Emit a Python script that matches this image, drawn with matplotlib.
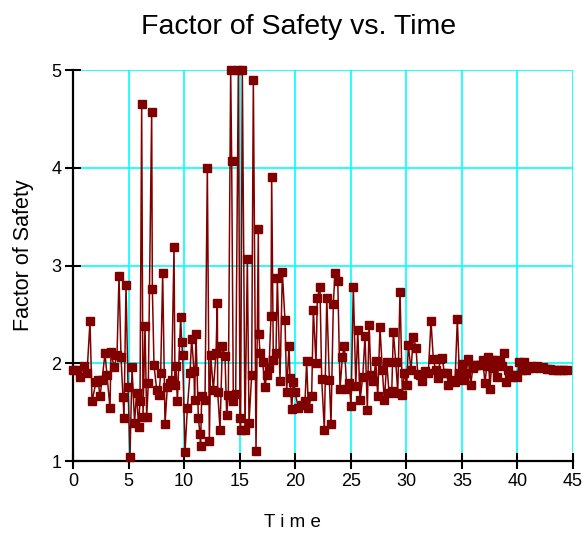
import matplotlib
matplotlib.use("Agg")
import matplotlib.pyplot as plt

plt.rcParams['font.family'] = ['Liberation Sans', 'DejaVu Sans']

# time (s)
time = [
    0.00, 0.27, 0.63, 0.99, 1.26, 1.53, 1.71, 2.07, 2.25, 2.43,
    2.61, 2.88, 3.06, 3.33, 3.42, 3.69, 3.96, 4.14, 4.32, 4.50,
    4.59, 4.77, 4.95, 5.13, 5.31, 5.54, 5.72, 5.90, 6.03, 6.18,
    6.30, 6.48, 6.63, 6.78, 7.08, 7.14, 7.29, 7.53, 7.74, 7.89,
    8.07, 8.28, 8.49, 8.69, 8.88, 9.09, 9.18, 9.27, 9.39, 9.69,
    9.78, 9.87, 10.08, 10.29, 10.53, 10.68, 10.89, 10.94, 11.07, 11.28,
    11.43, 11.48, 11.58, 11.88, 12.09, 12.27, 12.39, 12.63, 12.87, 12.99,
    13.02, 13.23, 13.44, 13.68, 13.83, 13.98, 14.19, 14.28, 14.43, 14.64,
    14.88, 15.03, 15.08, 15.24, 15.48, 15.69, 15.84, 16.08, 16.23, 16.47,
    16.68, 16.72, 16.83, 17.07, 17.28, 17.43, 17.64, 17.82, 17.88, 18.03,
    18.27, 18.39, 18.63, 18.84, 19.08, 19.23, 19.44, 19.53, 19.68, 19.83,
    19.98, 20.28, 20.58, 20.88, 21.03, 21.18, 21.48, 21.63, 21.87, 21.99,
    22.23, 22.38, 22.62, 22.84, 23.07, 23.22, 23.43, 23.58, 23.83, 24.03,
    24.24, 24.42, 24.64, 24.87, 25.02, 25.23, 25.45, 25.63, 25.83, 26.08,
    26.28, 26.49, 26.64, 26.82, 27.03, 27.25, 27.43, 27.63, 27.84, 28.02,
    28.24, 28.44, 28.69, 28.83, 29.05, 29.23, 29.43, 29.64, 29.82, 30.04,
    30.18, 30.42, 30.63, 30.87, 31.03, 31.23, 31.44, 31.68, 31.98, 32.22,
    32.43, 32.65, 32.88, 33.03, 33.24, 33.42, 33.64, 33.78, 34.09, 34.38,
    34.59, 34.77, 34.99, 35.19, 35.37, 35.58, 35.80, 35.98, 36.18, 36.39,
    36.63, 36.88, 37.08, 37.24, 37.38, 37.53, 37.69, 37.83, 37.98, 38.19,
    38.37, 38.59, 38.79, 38.97, 39.18, 39.40, 39.58, 39.78, 39.99, 40.17,
    40.39, 40.59, 40.77, 40.98, 41.20, 41.43, 41.74, 42.03, 42.33, 42.64,
    42.93, 43.23, 43.54, 43.83, 44.13, 44.44,
]

factor_of_safety = [
    1.93, 1.93, 1.86, 1.97, 1.90, 2.43, 1.61, 1.81, 1.83, 1.66,
    1.83, 2.10, 1.88, 1.54, 2.12, 1.96, 2.08, 2.89, 2.06, 1.65,
    1.44, 2.80, 1.76, 1.04, 1.96, 1.39, 1.70, 1.35, 1.61, 4.65,
    1.45, 2.38, 1.45, 1.80, 4.57, 2.76, 1.98, 1.73, 1.68, 1.90,
    2.92, 1.38, 1.76, 1.80, 1.83, 3.19, 1.78, 1.97, 1.61, 2.47,
    2.22, 2.08, 1.09, 1.54, 1.90, 2.25, 1.92, 1.62, 2.30, 1.44,
    1.28, 1.15, 1.66, 1.62, 4.00, 1.20, 2.08, 1.73, 2.10, 2.62,
    1.71, 1.32, 2.18, 2.07, 1.47, 1.68, 5.00, 4.07, 1.61, 1.69,
    5.00, 1.44, 1.32, 5.00, 1.32, 3.07, 1.39, 1.88, 4.90, 1.10,
    3.37, 2.30, 2.11, 2.01, 1.76, 1.88, 1.95, 2.48, 3.91, 2.03,
    2.11, 2.87, 1.82, 2.93, 2.44, 1.71, 2.18, 1.85, 1.53, 1.81,
    1.71, 1.54, 1.57, 1.61, 2.02, 1.54, 1.67, 2.55, 2.00, 2.67,
    2.78, 1.84, 1.32, 2.67, 1.83, 1.38, 2.61, 2.92, 2.84, 1.74,
    2.06, 2.18, 1.74, 1.80, 1.56, 2.78, 1.77, 2.34, 1.62, 1.86,
    2.28, 1.52, 2.39, 1.88, 1.82, 2.02, 1.66, 2.37, 1.93, 1.62,
    2.01, 1.70, 1.72, 2.32, 2.01, 1.70, 2.73, 1.68, 1.90, 1.78,
    2.19, 1.93, 2.27, 2.16, 1.89, 1.88, 1.82, 1.92, 1.90, 2.43,
    2.04, 1.93, 1.85, 2.04, 2.05, 1.90, 1.90, 1.78, 1.83, 1.81,
    2.45, 1.90, 1.99, 1.83, 1.90, 2.04, 1.78, 1.95, 1.98, 1.98,
    1.98, 2.03, 1.80, 1.97, 2.06, 1.74, 2.03, 1.95, 2.03, 1.86,
    2.01, 1.97, 2.10, 1.81, 1.93, 1.86, 1.88, 1.88, 1.86, 2.01,
    1.93, 2.01, 1.93, 1.95, 1.97, 1.95, 1.97, 1.95, 1.96, 1.94,
    1.94, 1.93, 1.93, 1.93, 1.93, 1.93,
]

x_ticks = [0, 5, 10, 15, 20, 25, 30, 35, 40, 45]
y_ticks = [1, 2, 3, 4, 5]

fig = plt.figure(figsize=(5.86, 5.35), dpi=100)
ax = fig.add_axes([0.1246, 0.1383, 0.8532, 0.7308])

ax.plot(time, factor_of_safety, color='#800000', linewidth=1.1,
        marker='s', markersize=5.5, markeredgecolor='#800000',
        markerfacecolor='#800000', zorder=3, clip_on=False)

ax.set_xlim(0, 45)
ax.set_ylim(1, 5)
ax.set_xticks(x_ticks)
ax.set_yticks(y_ticks)

ax.grid(True, color='#00ffff', linewidth=1.2, zorder=0)
ax.set_axisbelow(True)
ax.spines['top'].set_visible(False)
ax.spines['right'].set_visible(False)
ax.spines['left'].set_linewidth(1.6)
ax.spines['bottom'].set_linewidth(1.6)
ax.tick_params(direction='inout', length=11, width=1.5, labelsize=13,
               pad=3)

ax.set_title('Factor of Safety vs. Time', fontsize=20.5, pad=26, x=0.452)
ax.set_xlabel('T i m e', fontsize=13.5)
ax.set_ylabel('Factor of Safety', fontsize=15.5)
ax.xaxis.set_label_coords(0.438, -0.136)
ax.yaxis.set_label_coords(-0.078, 0.527)

fig.savefig('out.png', dpi=100)
